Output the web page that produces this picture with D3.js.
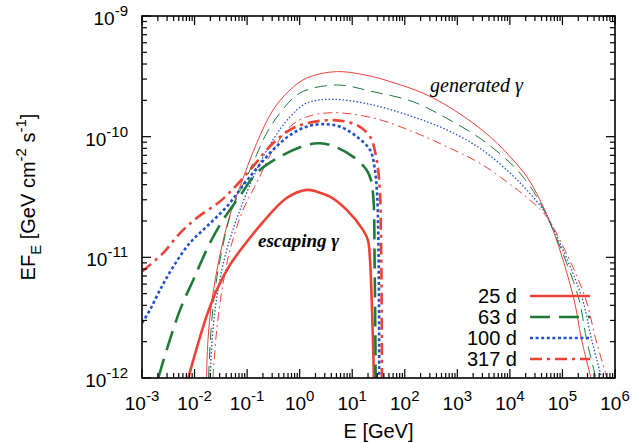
<!DOCTYPE html>
<html><head><meta charset="utf-8">
<script src="https://cdn.jsdelivr.net/npm/d3@7"></script>
<style>body{margin:0;background:#fff}svg{display:block}</style>
</head><body>
<script>
// ---- data ----
const gen25E = [1.69e-2,1.80e-2,2.15e-2,3.05e-2,4.72e-2,7.32e-2,0.152,0.310,0.655,1.36,5.06,24.8,52.2,225,972,4180,1.15e4,2.09e4,3.73e4,6.61e4,1.61e5,2.32e5,3.49e5];
const gen25F = [1.0e-12,2.07e-12,4.43e-12,1.05e-11,2.25e-11,3.85e-11,8.81e-11,1.66e-10,2.44e-10,3.06e-10,3.46e-10,3.14e-10,2.86e-10,2.29e-10,1.61e-10,1.00e-10,6.41e-11,4.67e-11,2.99e-11,1.69e-11,4.72e-12,2.07e-12,1.0e-12];
const gen63E = [1.84e-2,2.06e-2,2.45e-2,3.33e-2,5.15e-2,0.1135,0.236,0.423,1.01,5.06,24.8,143,627,2700,7480,1.56e4,3.24e4,6.61e4,2.00e5,2.89e5,4.34e5];
const gen63F = [1.0e-12,2.51e-12,5.37e-12,1.15e-11,2.47e-11,5.30e-11,1.07e-10,1.57e-10,2.30e-10,2.68e-10,2.36e-10,1.95e-10,1.42e-10,9.70e-11,6.83e-11,4.98e-11,3.18e-11,1.69e-11,4.72e-12,2.07e-12,1.0e-12];
const gen100E = [1.97e-2,2.24e-2,2.79e-2,4.09e-2,7.32e-2,0.152,0.310,0.655,1.36,4.31,24.8,143,627,2700,8690,2.09e4,4.32e4,6.61e4,2.32e5,3.60e5,5.57e5];
const gen100F = [1.0e-12,2.51e-12,5.37e-12,1.15e-11,2.47e-11,5.30e-11,9.40e-11,1.46e-10,1.90e-10,2.04e-10,1.83e-10,1.46e-10,1.14e-10,8.01e-11,5.30e-11,3.62e-11,2.47e-11,1.75e-11,4.72e-12,2.07e-12,1.0e-12];
const gen317E = [2.24e-2,2.64e-2,3.33e-2,4.72e-2,8.36e-2,0.152,0.310,0.655,1.36,4.31,24.8,143,627,2700,1.16e4,2.41e4,5.01e4,8.98e4,2.68e5,4.34e5,7.03e5];
const gen317F = [1.0e-12,2.51e-12,5.37e-12,1.15e-11,2.47e-11,4.13e-11,7.76e-11,1.21e-10,1.46e-10,1.58e-10,1.43e-10,1.10e-10,8.26e-11,6.02e-11,3.85e-11,2.99e-11,2.17e-11,1.39e-11,4.72e-12,2.07e-12,1.0e-12];

const esc25E = [7.60e-3,1.10e-2,1.70e-2,2.64e-2,4.72e-2,9.82e-2,0.200,0.566,1.36,2.11,3.78,7.85,16.0,19.9,21.8,23.5,24.8,25.9];
const esc25F = [1.0e-12,1.77e-12,3.27e-12,5.37e-12,8.65e-12,1.34e-11,1.96e-11,3.10e-11,3.62e-11,3.50e-11,3.18e-11,2.47e-11,1.69e-11,1.39e-11,9.51e-12,4.43e-12,2.07e-12,1.0e-12];
const esc63E = [2.04e-3,2.95e-3,5.29e-3,9.46e-3,1.97e-2,3.48e-2,7.32e-2,0.152,0.423,1.36,2.44,4.31,10.3,18.8,22.7,25.4,26.7,27.5,27.9];
const esc63F = [1.0e-12,1.71e-12,3.67e-12,6.50e-12,1.32e-11,2.04e-11,3.23e-11,5.00e-11,6.83e-11,8.53e-11,8.81e-11,8.37e-11,6.83e-11,5.30e-11,4.38e-11,2.99e-11,8.38e-12,2.51e-12,1.0e-12];
const esc100E = [1.0e-3,1.42e-3,2.20e-3,3.94e-3,8.19e-3,1.70e-2,4.09e-2,0.1135,0.310,0.655,1.36,2.78,5.85,12.2,21.8,26.5,29.6,31.3,32.3,32.7];
const esc100F = [2.86e-12,3.67e-12,5.37e-12,8.38e-12,1.32e-11,1.80e-11,2.63e-11,4.67e-11,7.76e-11,1.03e-10,1.21e-10,1.27e-10,1.21e-10,1.00e-10,7.76e-11,5.64e-11,3.42e-11,1.59e-11,4.43e-12,1.0e-12];
const esc317E = [1.0e-3,2.54e-3,5.29e-3,1.10e-2,3.48e-2,0.1135,0.310,0.655,1.36,4.31,12.2,21.8,29.2,33.7,35.3,36.3,36.8];
const esc317F = [7.62e-12,1.09e-11,1.59e-11,2.12e-11,3.05e-11,5.30e-11,8.81e-11,1.14e-10,1.29e-10,1.37e-10,1.25e-10,1.00e-10,6.41e-11,3.42e-11,1.39e-11,4.43e-12,1.0e-12];

const seriesLabels = ["25 d","63 d","100 d","317 d"];
const xTickExps = [-3,-2,-1,0,1,2,3,4,5,6];
const yTickExps = [-12,-11,-10,-9];
const xTitle = "E [GeV]";
const annGenerated = "generated γ";
const annEscaping = "escaping γ";

// ---- drawing ----
const W=642,H=443;
const L=142,R=615,T=16,B=378;
const RED="#ef4136", GREEN="#1f7a3a", BLUE="#2150cc";
const styles = [
  {color:RED,   thinDash:null,        thickDash:null},
  {color:GREEN, thinDash:"12,7",      thickDash:"20,9"},
  {color:BLUE,  thinDash:"1.5,2",     thickDash:"3,2.6"},
  {color:RED,   thinDash:"9,4,2,4",   thickDash:"12,5,3,5"}
];
const gens = [[gen25E,gen25F],[gen63E,gen63F],[gen100E,gen100F],[gen317E,gen317F]];
const escs = [[esc25E,esc25F],[esc63E,esc63F],[esc100E,esc100F],[esc317E,esc317F]];

const x = d3.scaleLog().domain([1e-3,1e6]).range([L,R]);
const y = d3.scaleLog().domain([1e-12,1e-9]).range([B,T]);

const svg = d3.select("body").append("svg").attr("width",W).attr("height",H);
const FONT = "'Liberation Sans', Arial, Helvetica, sans-serif";
const SERIF = "'Liberation Serif', 'Times New Roman', serif";

svg.append("defs").append("clipPath").attr("id","clip")
  .append("rect").attr("x",L).attr("y",T).attr("width",R-L).attr("height",B-T);

const line = d3.line().x(d=>x(d[0])).y(d=>y(d[1])).curve(d3.curveCatmullRom.alpha(0.5));
const g = svg.append("g").attr("clip-path","url(#clip)");

gens.forEach((s,i)=>{
  const pts = s[0].map((e,k)=>[e,s[1][k]]);
  g.append("path").attr("d",line(pts)).attr("fill","none")
    .attr("stroke",styles[i].color).attr("stroke-width",i===2?1.3:1)
    .attr("stroke-dasharray",styles[i].thinDash);
});
escs.forEach((s,i)=>{
  const pts = s[0].map((e,k)=>[e,s[1][k]]);
  g.append("path").attr("d",line(pts)).attr("fill","none")
    .attr("stroke",styles[i].color).attr("stroke-width",2.6)
    .attr("stroke-dasharray",styles[i].thickDash);
});

// ticks
const tk = svg.append("g").attr("stroke","#000").attr("stroke-width",1.2);
const MAJ=9, MIN=5;
function minorsX(){const out=[];for(let e=-3;e<6;e++)for(let m=2;m<=9;m++)out.push(m*Math.pow(10,e));return out;}
function minorsY(){const out=[];for(let e=-12;e<-9;e++)for(let m=2;m<=9;m++)out.push(m*Math.pow(10,e));return out;}
xTickExps.forEach(e=>{const px=x(Math.pow(10,e));
  tk.append("line").attr("x1",px).attr("x2",px).attr("y1",B).attr("y2",B-MAJ);
  tk.append("line").attr("x1",px).attr("x2",px).attr("y1",T).attr("y2",T+MAJ);});
minorsX().forEach(v=>{const px=x(v);
  tk.append("line").attr("x1",px).attr("x2",px).attr("y1",B).attr("y2",B-MIN);
  tk.append("line").attr("x1",px).attr("x2",px).attr("y1",T).attr("y2",T+MIN);});
yTickExps.forEach(e=>{const py=y(Math.pow(10,e));
  tk.append("line").attr("x1",L).attr("x2",L+MAJ).attr("y1",py).attr("y2",py);
  tk.append("line").attr("x1",R).attr("x2",R-MAJ).attr("y1",py).attr("y2",py);});
minorsY().forEach(v=>{const py=y(v);
  tk.append("line").attr("x1",L).attr("x2",L+MIN).attr("y1",py).attr("y2",py);
  tk.append("line").attr("x1",R).attr("x2",R-MIN).attr("y1",py).attr("y2",py);});

// frame
svg.append("rect").attr("x",L).attr("y",T).attr("width",R-L).attr("height",B-T)
  .attr("fill","none").attr("stroke","#000").attr("stroke-width",1.6);

// tick labels
xTickExps.forEach(e=>{
  const t = svg.append("text").attr("x",x(Math.pow(10,e))).attr("y",410)
    .attr("text-anchor","middle").attr("font-family",FONT).attr("font-size",19);
  t.append("tspan").text("10");
  t.append("tspan").attr("dy",-9).attr("font-size",15).text(String(e));
});
yTickExps.forEach(e=>{
  const t = svg.append("text").attr("x",128).attr("y",y(Math.pow(10,e))+9)
    .attr("text-anchor","end").attr("font-family",FONT).attr("font-size",19);
  t.append("tspan").text("10");
  t.append("tspan").attr("dy",-9).attr("font-size",15).text(String(e));
});

// axis titles
svg.append("text").attr("x",(L+R)/2).attr("y",438).attr("text-anchor","middle")
  .attr("font-family",FONT).attr("font-size",20).text(xTitle);
const yt = svg.append("text").attr("transform",`translate(35,${(T+B)/2}) rotate(-90)`)
  .attr("text-anchor","middle").attr("font-family",FONT).attr("font-size",20);
yt.append("tspan").text("EF");
yt.append("tspan").attr("dy",6).attr("font-size",15).text("E");
yt.append("tspan").attr("dy",-6).text(" [GeV cm");
yt.append("tspan").attr("dy",-9).attr("font-size",15).text("-2");
yt.append("tspan").attr("dy",9).text(" s");
yt.append("tspan").attr("dy",-9).attr("font-size",15).text("-1");
yt.append("tspan").attr("dy",9).text("]");

// annotations
svg.append("text").attr("x",430).attr("y",92).attr("font-family",SERIF)
  .attr("font-style","italic").attr("font-size",20).text(annGenerated);
svg.append("text").attr("x",258).attr("y",247).attr("font-family",SERIF)
  .attr("font-style","italic").attr("font-weight","bold").attr("font-size",19).text(annEscaping);

// legend
const legY0 = 296, legDY = 21;
seriesLabels.forEach((lab,i)=>{
  const ly = legY0 + i*legDY;
  svg.append("text").attr("x",517).attr("y",ly+7).attr("text-anchor","end")
    .attr("font-family",FONT).attr("font-size",20).text(lab);
  svg.append("line").attr("x1",530).attr("x2",590).attr("y1",ly).attr("y2",ly)
    .attr("stroke",styles[i].color).attr("stroke-width",2.6)
    .attr("stroke-dasharray",styles[i].thickDash);
});
</script>
</body></html>
